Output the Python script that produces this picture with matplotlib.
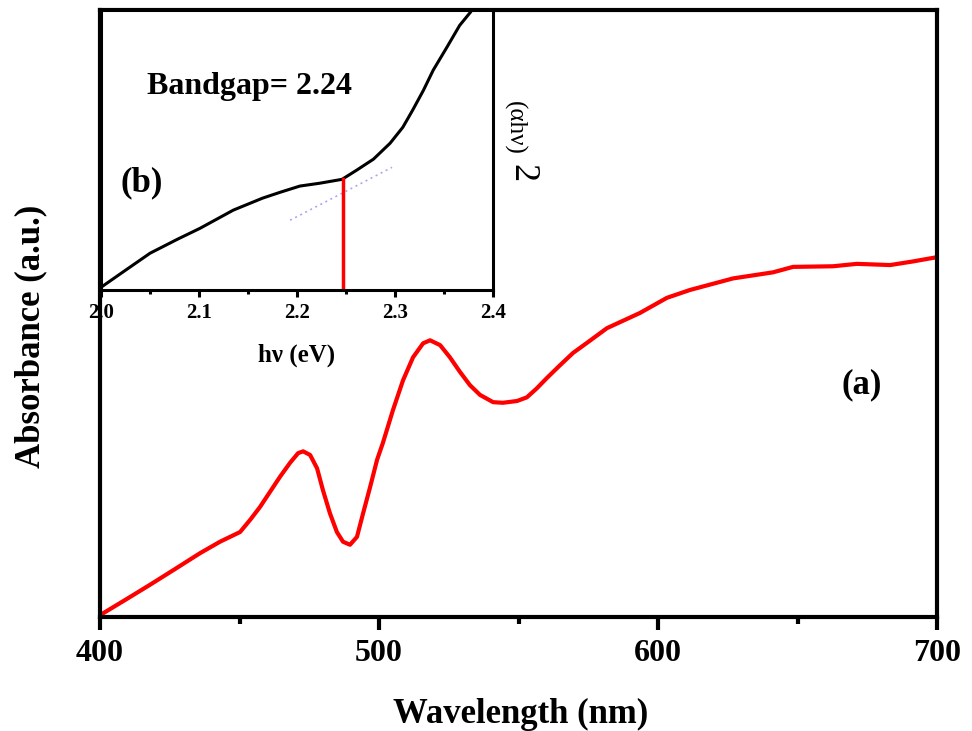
import matplotlib
matplotlib.use("Agg")
import matplotlib.pyplot as plt
from matplotlib.ticker import MultipleLocator, NullLocator

plt.rcParams['font.family'] = ['Liberation Serif', 'DejaVu Serif']
plt.rcParams['font.weight'] = 'bold'

# Main spectrum (a)
wavelength = [400.0, 409.0, 417.9, 426.9, 435.8, 443.0, 450.2, 453.8, 457.3, 460.9,
              464.5, 468.1, 471.0, 472.8, 475.3, 477.8, 479.9, 482.4, 484.9, 487.1,
              489.6, 492.1, 494.3, 496.8, 499.3, 501.4, 505.0, 508.6, 512.2, 515.8,
              518.3, 521.9, 525.4, 529.0, 532.6, 536.2, 540.9, 544.4, 549.5, 553.0,
              556.6, 560.2, 564.9, 569.5, 574.6, 581.7, 593.5, 603.2, 611.5,
              626.9, 641.2, 648.4, 662.7, 671.3, 683.2, 691.4, 700.0]
absorbance = [0.003, 0.028, 0.053, 0.079, 0.105, 0.124, 0.140, 0.160, 0.181, 0.206,
              0.231, 0.254, 0.270, 0.273, 0.267, 0.245, 0.209, 0.171, 0.140, 0.124,
              0.119, 0.132, 0.171, 0.214, 0.259, 0.287, 0.341, 0.390, 0.428, 0.451,
              0.456, 0.448, 0.428, 0.404, 0.382, 0.366, 0.354, 0.353, 0.356, 0.362,
              0.377, 0.394, 0.415, 0.435, 0.452, 0.476, 0.501, 0.526, 0.539,
              0.558, 0.568, 0.577, 0.578, 0.582, 0.580, 0.586, 0.593]
main_xticks = [400, 500, 600, 700]

# Tauc plot inset (b)
energy = [2.0007, 2.022, 2.05, 2.078, 2.101, 2.135, 2.165, 2.183, 2.203, 2.223,
          2.246, 2.261, 2.278, 2.295, 2.308, 2.318, 2.329, 2.339, 2.353, 2.366,
          2.377, 2.387]
tauc = [0.012, 0.064, 0.132, 0.182, 0.221, 0.286, 0.329, 0.350, 0.372, 0.382,
        0.396, 0.429, 0.468, 0.525, 0.582, 0.643, 0.714, 0.786, 0.868, 0.946,
        0.993, 1.043]
tangent_x = [2.193, 2.297]
tangent_y = [0.25, 0.439]
bandgap = 2.2466
bandgap_y = 0.396
inset_xticks = [2.0, 2.1, 2.2, 2.3, 2.4]

fig = plt.figure(figsize=(9.72, 7.31), dpi=100)
ax = fig.add_axes([0.1029, 0.156, 0.964 - 0.1029, 0.986 - 0.156])
ax.plot(wavelength, absorbance, color='#ff0000', lw=3, solid_joinstyle='round')
ax.set_xlim(400, 700)
ax.set_ylim(0, 1.0)
ax.set_xticks(main_xticks)
ax.xaxis.set_minor_locator(MultipleLocator(50))
ax.yaxis.set_major_locator(NullLocator())
for s in ax.spines.values():
    s.set_linewidth(3)
ax.tick_params(axis='x', which='major', direction='out', length=9, width=3,
               labelsize=23, pad=7)
ax.tick_params(axis='x', which='minor', direction='out', length=5, width=3)
for lab in ax.get_xticklabels():
    lab.set_fontweight('bold')
ax.set_xlabel('Wavelength (nm)', fontsize=25, fontweight='bold')
ax.xaxis.set_label_coords(0.503, -0.133)
ax.set_ylabel('Absorbance (a.u.)', fontsize=25, fontweight='bold')
ax.yaxis.set_label_coords(-0.063, 0.463)
ax.text(0.910, 0.382, '(a)', transform=ax.transAxes, fontsize=25,
        fontweight='bold', ha='center', va='center')

ins = fig.add_axes([0.1039, 0.603, 0.5072 - 0.1039, 0.986 - 0.603])
ins.plot(energy, tauc, color='black', lw=2.2, solid_joinstyle='round')
ins.plot(tangent_x, tangent_y, color='#a8a8f0', lw=1.2, linestyle=(0, (1.2, 2.2)))
ins.plot([bandgap, bandgap], [0, bandgap_y], color='#ff0000', lw=2.5)
ins.set_xlim(2.0, 2.4)
ins.set_ylim(0, 1.0)
ins.set_xticks(inset_xticks)
ins.set_xticklabels(['2.0', '2.1', '2.2', '2.3', '2.4'])
ins.xaxis.set_minor_locator(MultipleLocator(0.05))
ins.yaxis.set_major_locator(NullLocator())
for s in ins.spines.values():
    s.set_linewidth(2.2)
ins.tick_params(axis='x', which='major', direction='out', length=5, width=2.2,
                labelsize=15, pad=4)
ins.tick_params(axis='x', which='minor', direction='out', length=3, width=2.2)
for lab in ins.get_xticklabels():
    lab.set_fontweight('bold')
ins.set_xlabel('hν (eV)', fontsize=18, fontweight='bold')
ins.xaxis.set_label_coords(0.5, -0.19)
ins.text(0.38, 0.729, 'Bandgap= 2.24', transform=ins.transAxes, fontsize=23,
         fontweight='bold', ha='center', va='center')
ins.text(0.105, 0.382, '(b)', transform=ins.transAxes, fontsize=25,
         fontweight='bold', ha='center', va='center')
ins.text(1.054, 0.579, '(αhν)', transform=ins.transAxes, fontsize=18,
         fontweight='normal', rotation=-90, ha='center', va='center')
ins.text(1.074, 0.42, '2', transform=ins.transAxes, fontsize=26,
         fontweight='normal', rotation=-90, ha='center', va='center')

fig.savefig('out.png', dpi=100)
